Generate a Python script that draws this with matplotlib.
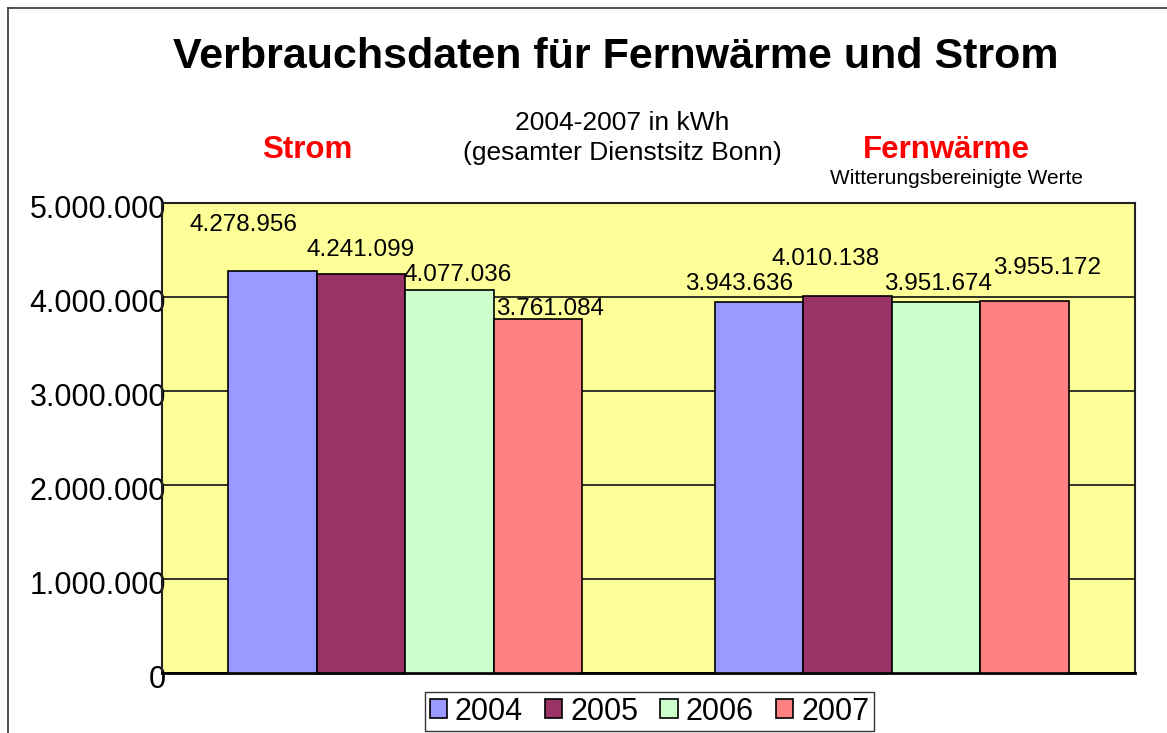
import numpy as np
import matplotlib
matplotlib.use('Agg')
import matplotlib.pyplot as plt
from matplotlib.lines import Line2D
from matplotlib.transforms import ScaledTranslation

plt.rcParams['font.family'] = ['Liberation Sans', 'DejaVu Sans']

# data
categories = ['Strom', 'Fernwärme']
years = ['2004', '2005', '2006', '2007']
values = {
    '2004': [4278956, 3943636],
    '2005': [4241099, 4010138],
    '2006': [4077036, 3951674],
    '2007': [3761084, 3955172],
}
colors = ['#9999FF', '#993366', '#CCFFCC', '#FF8080']

# label offsets in pixels (dx, dy) relative to bar top centre, as in the original
label_offsets = {
    '2004': [(-29, 46), (-20, 18)],
    '2005': [(0, 24), (-22, 37)],
    '2006': [(8, 15), (2, 18)],
    '2007': [(12, 10), (22, 33)],
}

def fmt(v):
    return f'{v:,}'.replace(',', '.')

W, H = 1167, 733
fig = plt.figure(figsize=(W / 100, H / 100), dpi=100)
ax = fig.add_axes([162 / W, 1 - 673 / H, (1135 - 162) / W, (673 - 203) / H])
ax.set_facecolor('#FFFF99')

x = np.arange(len(categories))
w = 0.182
for j, yr in enumerate(years):
    pos = x + (j - 1.5) * w
    ax.bar(pos, values[yr], w, color=colors[j], edgecolor='black', linewidth=1.2,
           label=yr, zorder=3)
    for k, (p, v) in enumerate(zip(pos, values[yr])):
        dx, dy = label_offsets[yr][k]
        ax.annotate(fmt(v), (p, v), xytext=(dx, dy), textcoords='offset pixels',
                    ha='center', va='center', fontsize=17.5, zorder=4)

ax.set_xlim(-0.5, 1.5)
ax.set_ylim(0, 5000000)
ax.set_yticks(range(0, 5000001, 1000000))
ax.set_yticklabels([fmt(t) for t in range(0, 5000001, 1000000)])
ax.tick_params(axis='y', length=0, pad=-3, labelsize=22)
shift = ScaledTranslation(0, -4 / 100, fig.dpi_scale_trans)
for lab in ax.get_yticklabels():
    lab.set_transform(lab.get_transform() + shift)
ax.set_xticks([])
ax.yaxis.grid(True, color='#111111', linewidth=1.2, zorder=0)
ax.set_axisbelow(True)
for s in ax.spines.values():
    s.set_linewidth(1.5)
    s.set_color('#222222')
ax.spines['bottom'].set_color('black')
ax.spines['bottom'].set_linewidth(2)

# texts
fig.text(616 / W, 1 - 57 / H, 'Verbrauchsdaten für Fernwärme und Strom',
         ha='center', va='center', fontsize=31, fontweight='bold')
fig.text(622 / W, 1 - 123 / H, '2004-2007 in kWh', ha='center', va='center', fontsize=19)
fig.text(622 / W, 1 - 153 / H, '(gesamter Dienstsitz Bonn)', ha='center', va='center', fontsize=19)
fig.text(307 / W, 1 - 150 / H, categories[0], ha='center', va='center', fontsize=22.5,
         fontweight='bold', color='#FF0000')
fig.text(946 / W, 1 - 150 / H, categories[1], ha='center', va='center', fontsize=22.5,
         fontweight='bold', color='#FF0000')
fig.text(957 / W, 1 - 178 / H, 'Witterungsbereinigte Werte', ha='center', va='center', fontsize=15)

# outer frame (left and top)
fig.add_artist(Line2D([8 / W, 8 / W], [0, 1 - 8 / H], color='#333333', linewidth=1.2))
fig.add_artist(Line2D([8 / W, 1], [1 - 8 / H, 1 - 8 / H], color='#333333', linewidth=1.2))

leg = fig.legend(loc='upper center', bbox_to_anchor=(649.5 / W, 1 - 692 / H), ncol=4,
                 fontsize=22, frameon=True, fancybox=False, edgecolor='black',
                 handlelength=0.56, handleheight=0.56, handletextpad=0.27, columnspacing=0.72,
                 borderpad=0.15, borderaxespad=0)
leg.get_frame().set_linewidth(1.0)

fig.savefig('out.png', dpi=100)
